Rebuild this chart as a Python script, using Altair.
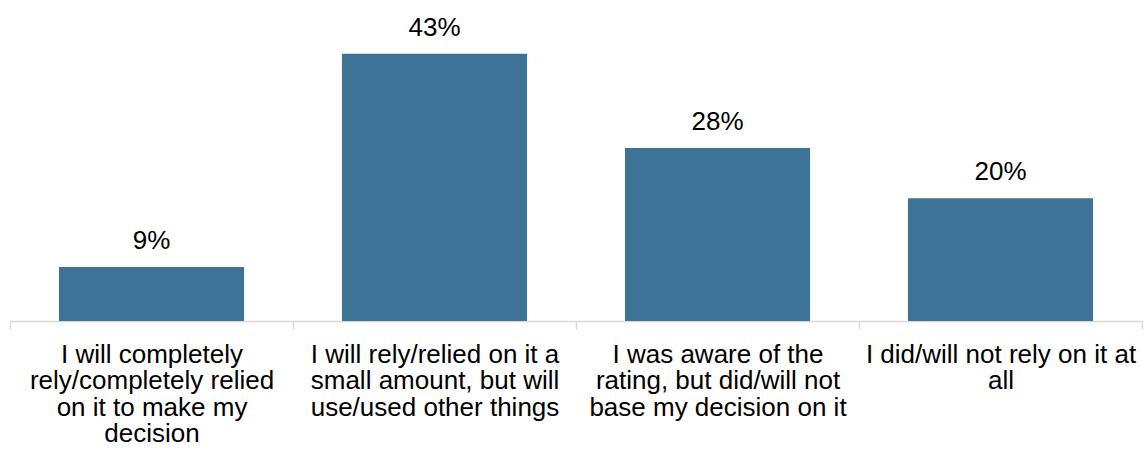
import altair as alt
import pandas as pd

label_lines = [
    ["I will completely", "rely/completely relied", "on it to make my", "decision"],
    ["I will rely/relied on it a", "small amount, but will", "use/used other things"],
    ["I was aware of the", "rating, but did/will not", "base my decision on it"],
    ["I did/will not rely on it at", "all"],
]
values = [8.7, 43.1, 27.9, 19.8]
value_labels = ["9%", "43%", "28%", "20%"]

categories = ["\n".join(l) for l in label_lines]
df = pd.DataFrame({"cat": categories, "value": values, "label": value_labels})

FONT = "Arial, Liberation Sans, sans-serif"

x = alt.X(
    "cat:N",
    sort=categories,
    title=None,
    scale=alt.Scale(paddingInner=0, paddingOuter=0),
    axis=alt.Axis(
        labelExpr="split(datum.label, '\\n')",
        labelAngle=0,
        labelFont=FONT,
        labelFontSize=26,
        labelColor="#000000",
        labelLineHeight=26.5,
        labelPadding=12,
        labelLimit=400,
        labelBaseline="top",
        domainColor="#d9d9d9",
        domainWidth=1.5,
        tickColor="#d9d9d9",
        tickWidth=1.5,
        tickSize=8,
        tickBand="extent",
    ),
)
y = alt.Y("value:Q", scale=alt.Scale(domain=[0, 50]), axis=None)

bars = alt.Chart(df).mark_bar(
    color="#3c7397", width=alt.RelativeBandSize(0.654)
).encode(x=x, y=y)
text = alt.Chart(df).mark_text(
    font=FONT, fontSize=26, color="#000000", baseline="alphabetic", dy=-18
).encode(x=x, y=y, text="label:N")

chart = (
    (bars + text)
    .properties(
        width=1132,
        height=310,
        background="white",
        padding={"left": 10, "right": 3, "top": 11, "bottom": 133},
        autosize=alt.AutoSizeParams(type="none"),
    )
    .configure_view(strokeWidth=0, stroke="transparent")
)

chart.save("out.html", embed_options={"renderer": "svg", "actions": False})
